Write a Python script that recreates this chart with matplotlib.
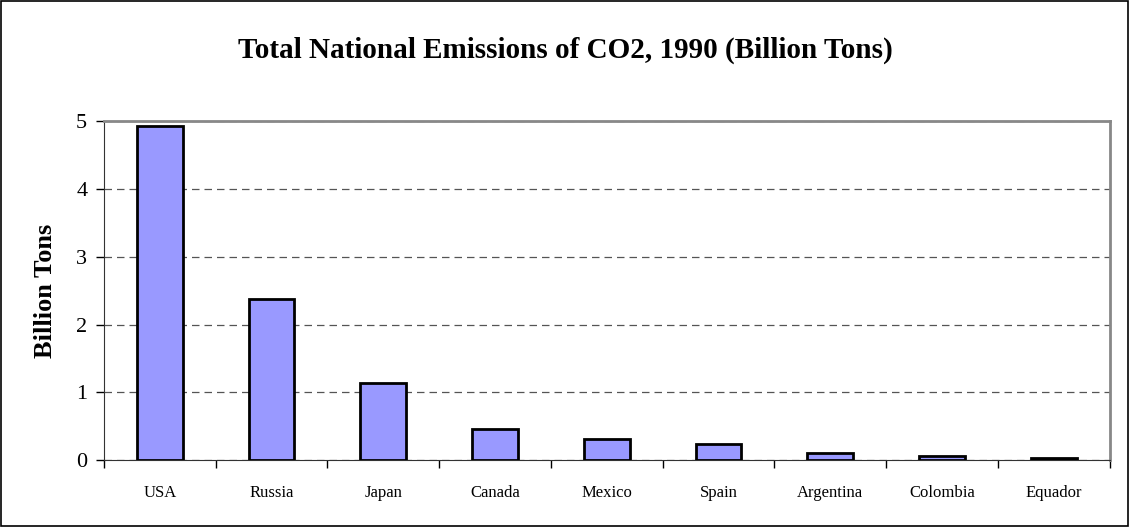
import matplotlib.pyplot as plt
import numpy as np
from matplotlib.patches import Rectangle

countries = ['USA', 'Russia', 'Japan', 'Canada', 'Mexico', 'Spain', 'Argentina', 'Colombia', 'Equador']
emissions = [4.93, 2.38, 1.13, 0.46, 0.31, 0.23, 0.10, 0.06, 0.03]
yticks = [0, 1, 2, 3, 4, 5]

plt.rcParams['font.family'] = ['Liberation Serif', 'DejaVu Serif']

fig = plt.figure(figsize=(11.3, 5.27), dpi=100)
ax = fig.add_axes([0.092, 0.127, 0.890, 0.643])

x = np.arange(len(countries))
ax.bar(x, emissions, width=0.41, color='#9999FF', edgecolor='black', linewidth=2, zorder=3)

ax.set_xlim(-0.5, len(countries) - 0.5)
ax.set_ylim(0, 5)
ax.set_yticks(yticks)
ax.set_yticklabels([str(v) for v in yticks], fontsize=16)
ax.set_xticks(x)
ax.set_xticklabels(countries, fontsize=12)
ax.tick_params(axis='x', length=0, pad=18)
ax.set_xticks(np.arange(len(countries) + 1) - 0.5, minor=True)
ax.tick_params(axis='x', which='minor', length=6, width=1, direction='out')
ax.tick_params(axis='y', length=6, width=1, direction='out', pad=6)

ax.yaxis.grid(True, linestyle=(0, (6, 4)), color='#555555', linewidth=0.9, zorder=0)
ax.spines['top'].set_color('#888888')
ax.spines['right'].set_color('#888888')
ax.spines['top'].set_linewidth(2)
ax.spines['right'].set_linewidth(2)
ax.spines['left'].set_color('#333333')
ax.spines['bottom'].set_color('#333333')

ax.set_ylabel('Billion Tons', fontsize=19, fontweight='bold', labelpad=14)
fig.text(0.5, 0.905, 'Total National Emissions of CO2, 1990 (Billion Tons)',
         ha='center', va='center', fontsize=21, fontweight='bold')

fig.patches.append(Rectangle((0.001, 0.002), 0.997, 0.996, transform=fig.transFigure,
                             fill=False, edgecolor='black', linewidth=1.2))

fig.savefig('out.png', dpi=100)
